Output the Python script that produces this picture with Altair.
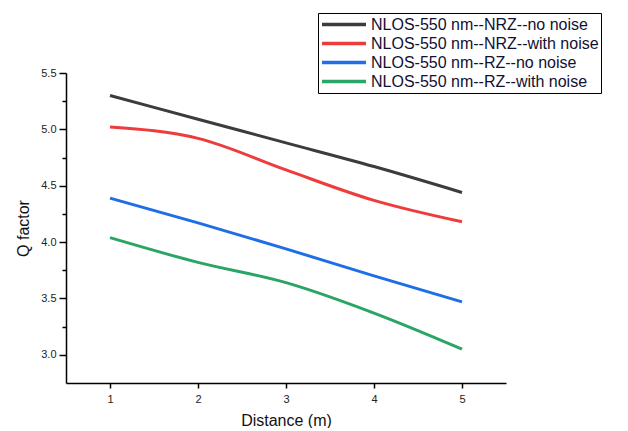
import altair as alt
import pandas as pd

distance = [1, 2, 3, 4, 5]
series_names = [
    "NLOS-550 nm--NRZ--no noise",
    "NLOS-550 nm--NRZ--with noise",
    "NLOS-550 nm--RZ--no noise",
    "NLOS-550 nm--RZ--with noise",
]
nrz_no_noise = [5.30, 5.09, 4.88, 4.67, 4.44]
nrz_with_noise = [5.02, 4.92, 4.64, 4.37, 4.18]
rz_no_noise = [4.39, 4.17, 3.94, 3.70, 3.47]
rz_with_noise = [4.04, 3.82, 3.64, 3.37, 3.05]
colors = ["#3c3c3c", "#ee3b3b", "#1e6ee6", "#2aa565"]

x_ticks = [1, 1.5, 2, 2.5, 3, 3.5, 4, 4.5, 5]
y_ticks = [3.0, 3.25, 3.5, 3.75, 4.0, 4.25, 4.5, 4.75, 5.0, 5.25, 5.5]

rows = []
for name, vals in zip(series_names, [nrz_no_noise, nrz_with_noise, rz_no_noise, rz_with_noise]):
    for d, v in zip(distance, vals):
        rows.append({"Distance": d, "Q": v, "Series": name})
df = pd.DataFrame(rows)

FONT = "Liberation Sans"
xscale = alt.Scale(domain=[0.5, 5.5], nice=False, zero=False)
yscale = alt.Scale(domain=[2.75, 5.5], nice=False, zero=False)

x_minor_test = "datum.value % 1 != 0"
y_minor_test = "(datum.value * 4) % 2 != 0"

chart = alt.Chart(df).mark_line(strokeWidth=3, interpolate="monotone").encode(
    x=alt.X("Distance:Q", scale=xscale,
            axis=alt.Axis(values=x_ticks, title="Distance (m)", format="d",
                          labelExpr="datum.value % 1 != 0 ? '' : datum.label",
                          tickSize=alt.ConditionalAxisNumber(
                              condition={"test": x_minor_test, "value": 3}, value=5),
                          labelPadding=5, titlePadding=8, grid=False, orient="bottom",
                          domainColor="black", tickColor="black", labelColor="#222222",
                          labelFontSize=11, titleFontSize=16, titleFontWeight="normal",
                          titleFont=FONT, titleColor="#111111", labelFont=FONT,
                          domainWidth=1.5, tickWidth=1.5)),
    y=alt.Y("Q:Q", scale=yscale,
            axis=alt.Axis(values=y_ticks, format=".1f", title="Q factor",
                          labelExpr="(datum.value * 4) % 2 != 0 ? '' : datum.label",
                          tickSize=alt.ConditionalAxisNumber(
                              condition={"test": y_minor_test, "value": 4}, value=7),
                          labelPadding=3, titlePadding=9, grid=False, orient="left",
                          domainColor="black", tickColor="black", labelColor="#222222",
                          labelFontSize=11, titleFontSize=16, titleFontWeight="normal",
                          titleColor="#111111", titleFont=FONT, labelFont=FONT,
                          domainWidth=1.5, tickWidth=1.5)),
    color=alt.Color("Series:N", sort=series_names,
                    scale=alt.Scale(domain=series_names, range=colors),
                    legend=alt.Legend(title=None, orient="none", legendX=252, legendY=-60,
                                      strokeColor="black", fillColor="white", padding=2,
                                      labelFontSize=16, labelFont=FONT, labelColor="#111133",
                                      labelLimit=0, symbolType="stroke", symbolStrokeWidth=3.5,
                                      symbolSize=1936, labelOffset=3, rowPadding=0,
                                      clipHeight=19)),
).properties(
    width=440, height=310,
    autosize=alt.AutoSizeParams(type="none"),
    padding={"left": 58, "top": 65, "right": 100, "bottom": 45},
).configure(background="white").configure_view(stroke="transparent", strokeWidth=0)

chart.save("out.html", embed_options={"renderer": "svg", "actions": False})
